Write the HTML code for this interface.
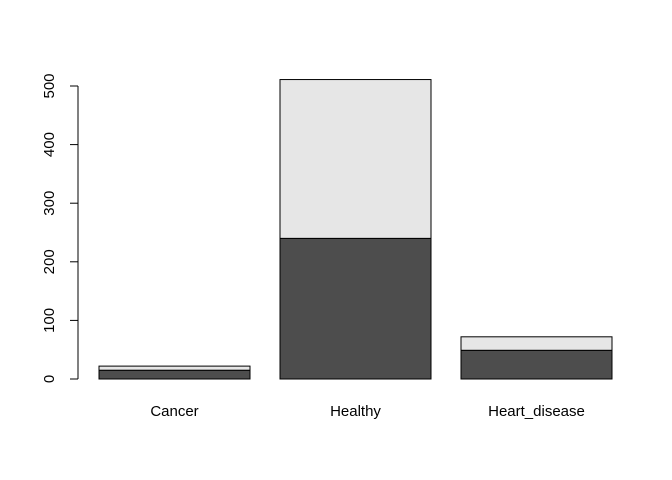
<!DOCTYPE html>
<html><head><meta charset="utf-8"><style>body{margin:0;background:#fff}svg{display:block;font-family:"Liberation Sans",Arial,sans-serif}</style></head>
<body>
<svg id="chart" width="672" height="480" viewBox="0 0 672 480"></svg>
<script>
const categories = ["Cancer","Healthy","Heart_disease"];
const seriesLower = [15, 240, 49];
const seriesUpper = [7, 271, 23];
const yTicks = [0,100,200,300,400,500];
const svg = document.getElementById('chart');
const NS = 'http://www.w3.org/2000/svg';
const y0 = 379, yPerUnit = (379-86)/500;
const yScale = v => y0 - v*yPerUnit;
const barW = 151, gap = 30, x0 = 99;
const xScale = i => x0 + i*(barW+gap);
function mk(t, a){const e=document.createElementNS(NS,t);for(const k in a)e.setAttribute(k,a[k]);svg.appendChild(e);return e;}
const axis = mk('line',{x1:78,x2:78,y1:yScale(yTicks[0]),y2:yScale(yTicks[yTicks.length-1]),stroke:'#000'});


yTicks.forEach(v=>{
  const y=yScale(v);
  const t=mk('line',{x1:70,x2:78,y1:y,y2:y,stroke:'#000'});
  
  
  const l=mk('text',{x:0,y:0,transform:`translate(54,${y}) rotate(-90)`,'text-anchor':'middle','font-size':'15',fill:'#000'});
  l.textContent=v;
  
  
});
categories.forEach((c,i)=>{
  const x=xScale(i);
  const lo=seriesLower[i], hi=seriesUpper[i];
  const r1=mk('rect',{x:x,y:yScale(lo),width:barW,height:yScale(0)-yScale(lo),fill:'#4d4d4d',stroke:'#000'});
  
  
  const r2=mk('rect',{x:x,y:yScale(lo+hi),width:barW,height:yScale(lo)-yScale(lo+hi),fill:'#e6e6e6',stroke:'#000'});
  
  
  const t=mk('text',{x:x+barW/2,y:416,'text-anchor':'middle','font-size':'15',fill:'#000'});
  t.textContent=c;
  
  
});
</script>
</body></html>
